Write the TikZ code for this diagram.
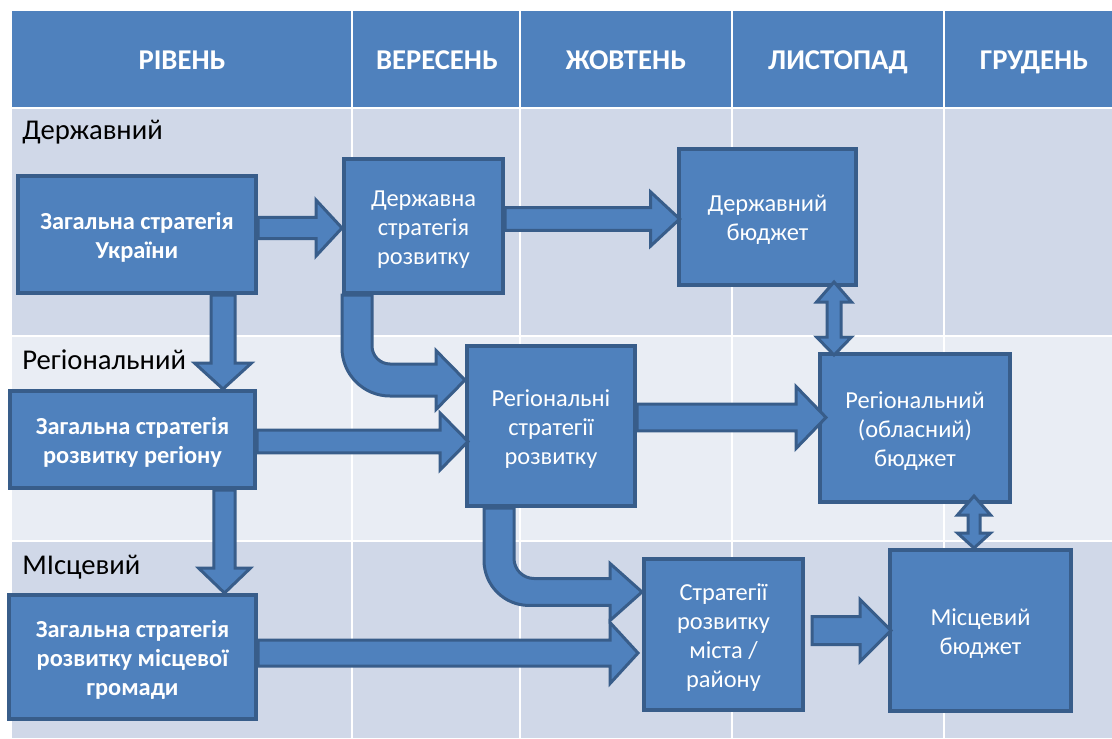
\documentclass[tikz,border=0pt]{standalone}
\usepackage{fontspec}
\setmainfont{Carlito}
\usetikzlibrary{calc}
\definecolor{hdr}{HTML}{4F81BD}
\definecolor{bfill}{HTML}{4F81BD}
\definecolor{bline}{HTML}{385D8A}
\definecolor{rowA}{HTML}{D0D8E8}
\definecolor{rowB}{HTML}{E9EDF4}
\newcommand\toprule{\rule{0pt}{17pt}}
\tikzset{
  hdrtxt/.style={text=white, font=\fontsize{21.5}{25}\selectfont\bfseries, inner sep=0pt, anchor=base},
  rowlbl/.style={text=black, font=\fontsize{21.5}{25}\selectfont, inner sep=0pt, anchor=base west},
  box/.style={draw=bline, fill=bfill, line width=3pt, text=white, align=center,
    font=\fontsize{18.3}{21.75}\selectfont, inner sep=0pt},
  barrow/.style={fill=bfill, draw=bline, line width=2.25pt, line join=miter},
  gridline/.style={white, line width=1.5pt}
}
% horizontal block arrow: start x from #1, tip #2, shaft half #3, head half #4, head length #5 (pt)
\newcommand\harr[5]{%
 \path[barrow] let \p1=#1, \p2=#2 in
 (\x1,{\y2+#3pt}) -- ({\x2-#5pt},{\y2+#3pt}) -- ({\x2-#5pt},{\y2+#4pt}) -- (\x2,\y2)
 -- ({\x2-#5pt},{\y2-#4pt}) -- ({\x2-#5pt},{\y2-#3pt}) -- (\x1,{\y2-#3pt}) -- cycle;}
% downward block arrow: x from #1
\newcommand\varr[5]{%
 \path[barrow] let \p1=#1, \p2=#2 in
 ({\x1-#3pt},\y1) -- ({\x1-#3pt},{\y2+#5pt}) -- ({\x1-#4pt},{\y2+#5pt}) -- (\x1,\y2)
 -- ({\x1+#4pt},{\y2+#5pt}) -- ({\x1+#3pt},{\y2+#5pt}) -- ({\x1+#3pt},\y1) -- cycle;}
% vertical double arrow
\newcommand\dvarr[6]{%
 \path[barrow] let \p1=#1, \p2=#2 in
 (\x1,\y1) -- ({\x1+#4pt},{\y1-#5pt}) -- ({\x1+#3pt},{\y1-#5pt}) -- ({\x1+#3pt},{\y2+#6pt})
 -- ({\x1+#4pt},{\y2+#6pt}) -- (\x1,\y2) -- ({\x1-#4pt},{\y2+#6pt}) -- ({\x1-#3pt},{\y2+#6pt})
 -- ({\x1-#3pt},{\y1-#5pt}) -- ({\x1-#4pt},{\y1-#5pt}) -- cycle;}
% bent block arrow: down then right
\newcommand\carr[8]{%
 \path[barrow] let \p1=#1, \p2=#2 in
 (\x1,\y1) -- (\x1,{\y2-#4pt+#7pt}) arc[start angle=180,end angle=270,radius=#7pt]
 -- ({\x2-#6pt},{\y2-#4pt}) -- ({\x2-#6pt},{\y2-#5pt}) -- (\x2,\y2)
 -- ({\x2-#6pt},{\y2+#5pt}) -- ({\x2-#6pt},{\y2+#4pt}) -- ({\x1+#3pt+#8pt},{\y2+#4pt})
 arc[start angle=270,end angle=180,radius=#8pt] -- ({\x1+#3pt},\y1) -- cycle;}
\begin{document}
\begin{tikzpicture}[x=0.75pt,y=-0.75pt]
\useasboundingbox (0,0) rectangle (1112,738);
% table background
\fill[hdr] (12,11) rectangle (1112,107);
\fill[rowA] (12,109) rectangle (1112,336);
\fill[rowB] (12,336) rectangle (1112,541);
\fill[rowA] (12,541) rectangle (1112,738);
\draw[gridline] (12,108) -- (1112,108);
\draw[gridline] (12,336) -- (1112,336);
\draw[gridline] (12,541) -- (1112,541);
\foreach \cx in {352,520,732,944} \draw[gridline] (\cx,11) -- (\cx,738);
% header
\node[hdrtxt] (h1) at (182,70) {РІВЕНЬ};
\node[hdrtxt] (h2) at (437,70) {ВЕРЕСЕНЬ};
\node[hdrtxt] (h3) at (626,70) {ЖОВТЕНЬ};
\node[hdrtxt] (h4) at (838,70) {ЛИСТОПАД};
\node[hdrtxt] (h5) at (1034,70) {ГРУДЕНЬ};
% row labels
\node[rowlbl] (l1) at (22,140) {Державний};
\node[rowlbl] (l2) at (22,369) {Регіональний};
\node[rowlbl] (l3) at (22,574) {МІсцевий};
% boxes
\node[box, minimum width=178.5pt, minimum height=87.75pt] (A) at (137,234.5) {\toprule\bfseries Загальна стратегія\\\bfseries України};
\node[box, minimum width=119.25pt, minimum height=100.5pt] (B) at (423.5,226) {\toprule Державна\\стратегія\\розвитку};
\node[box, minimum width=132.75pt, minimum height=102pt] (C) at (767.5,217) {\toprule Державний\\бюджет};
\node[box, minimum width=183.75pt, minimum height=72.75pt] (D) at (132.5,439.5) {\toprule\bfseries Загальна стратегія\\\bfseries розвитку регіону};
\node[box, minimum width=126pt, minimum height=120pt] (E) at (551,426) {\toprule Регіональні\\стратегії\\розвитку};
\node[box, minimum width=142.5pt, minimum height=111pt] (F) at (915,428) {\toprule Регіональний\\(обласний)\\бюджет};
\node[box, minimum width=185.25pt, minimum height=93pt] (G) at (132.5,657) {\toprule\bfseries Загальна стратегія\\\bfseries розвитку місцевої\\\bfseries громади};
\node[box, minimum width=119.25pt, minimum height=113.25pt] (H) at (723.5,634.5) {\toprule Стратегії\\розвитку\\міста /\\району};
\node[box, minimum width=135.75pt, minimum height=120.75pt] (I) at (980.5,630.5) {\toprule Місцевий\\бюджет};
% arrows
\harr{(A.east)}{([yshift=-1.5pt]B.west)}{7.9}{21}{19.5}
\harr{(B.east)}{([xshift=2pt,yshift=-1.5pt]C.west)}{8.6}{20.25}{21.75}
\harr{(D.east)}{([xshift=2.25pt,yshift=-11.6pt]E.west)}{8.6}{21.4}{21}
\harr{(E.east)}{([xshift=6pt,yshift=7.9pt]F.west)}{10.1}{23.25}{22.5}
\harr{(G.east)}{([xshift=-3pt,yshift=-13.9pt]H.west)}{9.75}{22.9}{21}
\harr{([xshift=5.25pt]H.east)}{([xshift=2.25pt]I.west)}{10.5}{23.25}{23.25}
\varr{([xshift=64.5pt]A.south)}{(D.north)}{9}{21.4}{19.5}
\varr{([xshift=69pt]D.south)}{(G.north)}{7.9}{19.5}{18.75}
\dvarr{([xshift=49.9pt,yshift=3.75pt]C.south)}{([yshift=-2.25pt]F.north)}{5.25}{13.1}{15}{13.5}
\dvarr{([xshift=44.25pt,yshift=6pt]F.south)}{(I.north)}{4.5}{12.4}{14.25}{11.25}
\carr{(B.south west)}{([yshift=34.5pt]E.west)}{22.5}{12}{22.1}{21.75}{36}{13.5}
\carr{([xshift=14.25pt]E.south west)}{([yshift=31.9pt]H.west)}{22.5}{10.1}{21.4}{24}{33.75}{15}
\end{tikzpicture}
\end{document}
